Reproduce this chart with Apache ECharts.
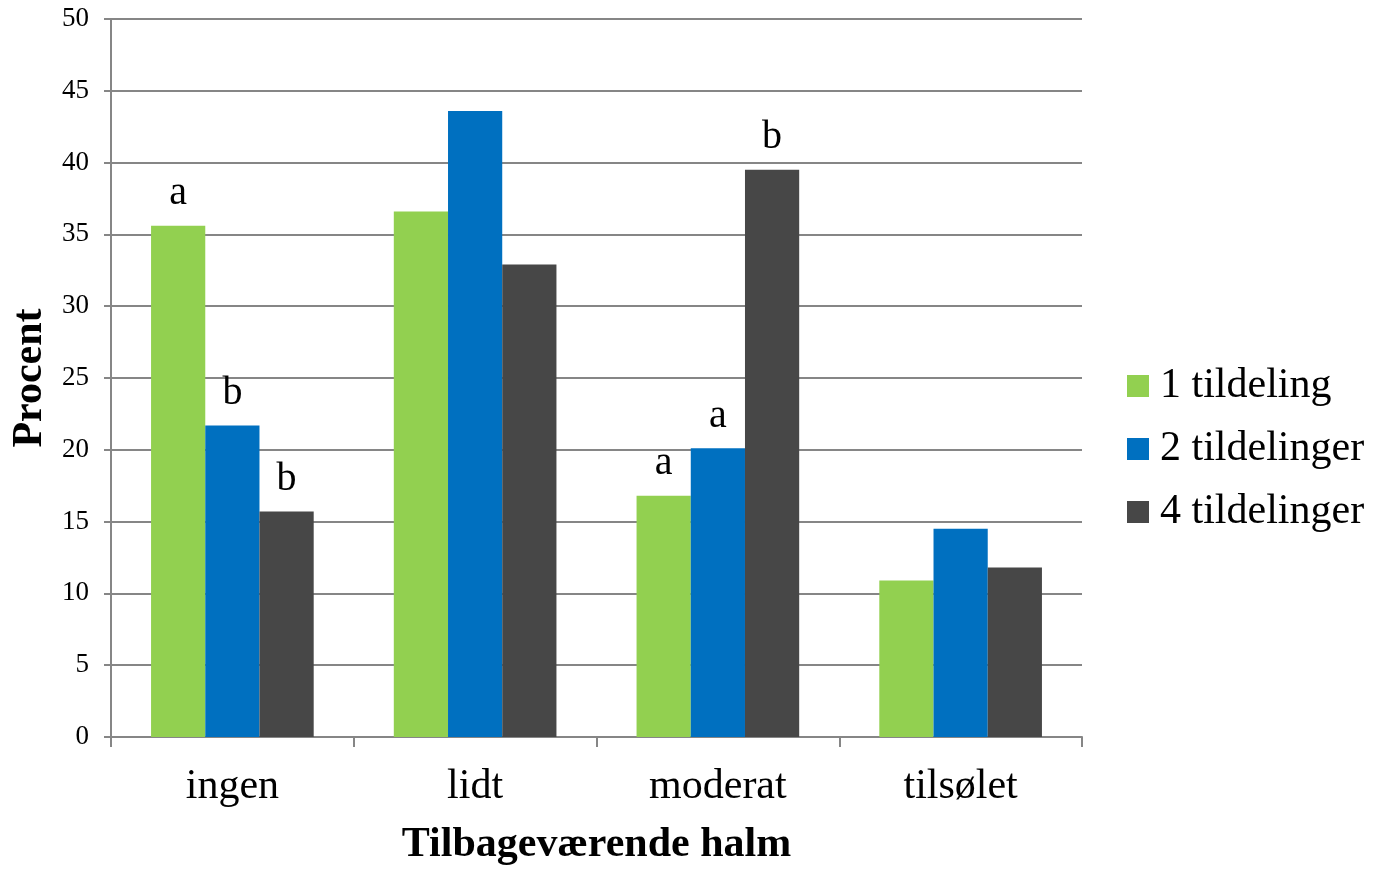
<!DOCTYPE html>
<html><head><meta charset="utf-8">
<script src="https://cdn.jsdelivr.net/npm/echarts@6/dist/echarts.min.js"></script>
<style>html,body{margin:0;padding:0;background:#fff}#c{width:1374px;height:871px}</style>
</head><body><div id="c"></div>
<script>
const categories = ['ingen', 'lidt', 'moderat', 'tilsølet'];
const seriesNames = ['1 tildeling', '2 tildelinger', '4 tildelinger'];
const v1 = [35.6, 36.6, 16.8, 10.9];
const v2 = [21.7, 43.6, 20.1, 14.5];
const v4 = [15.7, 32.9, 39.5, 11.8];
const letters1 = ['a', '', 'a', ''];
const letters2 = ['b', '', 'a', ''];
const letters4 = ['b', '', 'b', ''];
const colors = ['#92D050', '#0070C0', '#474747'];
const yTicks = [0, 5, 10, 15, 20, 25, 30, 35, 40, 45, 50];

const font = '"Liberation Serif", "Times New Roman", serif';
function mk(name, vals, letters, color) {
  return {
    name, type: 'bar', data: vals, barGap: '0%', barCategoryGap: '33%',
    itemStyle: { color },
    label: {
      show: true, position: 'top', distance: 12,
      fontFamily: font, fontSize: 40, color: '#000',
      formatter: p => letters[p.dataIndex]
    }
  };
}
const chart = echarts.init(document.getElementById('c'));
chart.setOption({
  animation: false,
  textStyle: { fontFamily: font },
  grid: { left: 111, right: 292, top: 19, bottom: 130, containLabel: false },
  legend: {
    orient: 'vertical', left: 1122, top: 360,
    itemWidth: 22, itemHeight: 22, itemGap: 21, icon: 'rect',
    textStyle: { fontFamily: font, fontSize: 42, color: '#000', padding: [0, 0, 0, 6] },
    data: seriesNames
  },
  xAxis: {
    type: 'category', data: categories,
    name: 'Tilbageværende halm', nameLocation: 'middle', nameGap: 87,
    nameTextStyle: { fontFamily: font, fontSize: 42, fontWeight: 'bold', color: '#000' },
    axisLine: { lineStyle: { color: '#868686', width: 2 } },
    axisTick: { show: true, length: 10, lineStyle: { color: '#868686', width: 2 } },
    axisLabel: { fontFamily: font, fontSize: 42, color: '#000', margin: 29 }
  },
  yAxis: {
    type: 'value', min: 0, max: 50, interval: 5,
    name: 'Procent', nameLocation: 'middle', nameGap: 55, nameRotate: 90,
    nameTextStyle: { fontFamily: font, fontSize: 42, fontWeight: 'bold', color: '#000' },
    axisLine: { show: true, lineStyle: { color: '#868686', width: 2 } },
    axisTick: { show: true, length: 7, lineStyle: { color: '#868686', width: 2 } },
    axisLabel: { fontFamily: font, fontSize: 27, color: '#000', margin: 22,
      formatter: v => yTicks.includes(v) ? String(v) : '' },
    splitLine: { show: true, lineStyle: { color: '#868686', width: 2 } }
  },
  series: [
    mk(seriesNames[0], v1, letters1, colors[0]),
    mk(seriesNames[1], v2, letters2, colors[1]),
    mk(seriesNames[2], v4, letters4, colors[2])
  ]
});
</script></body></html>
